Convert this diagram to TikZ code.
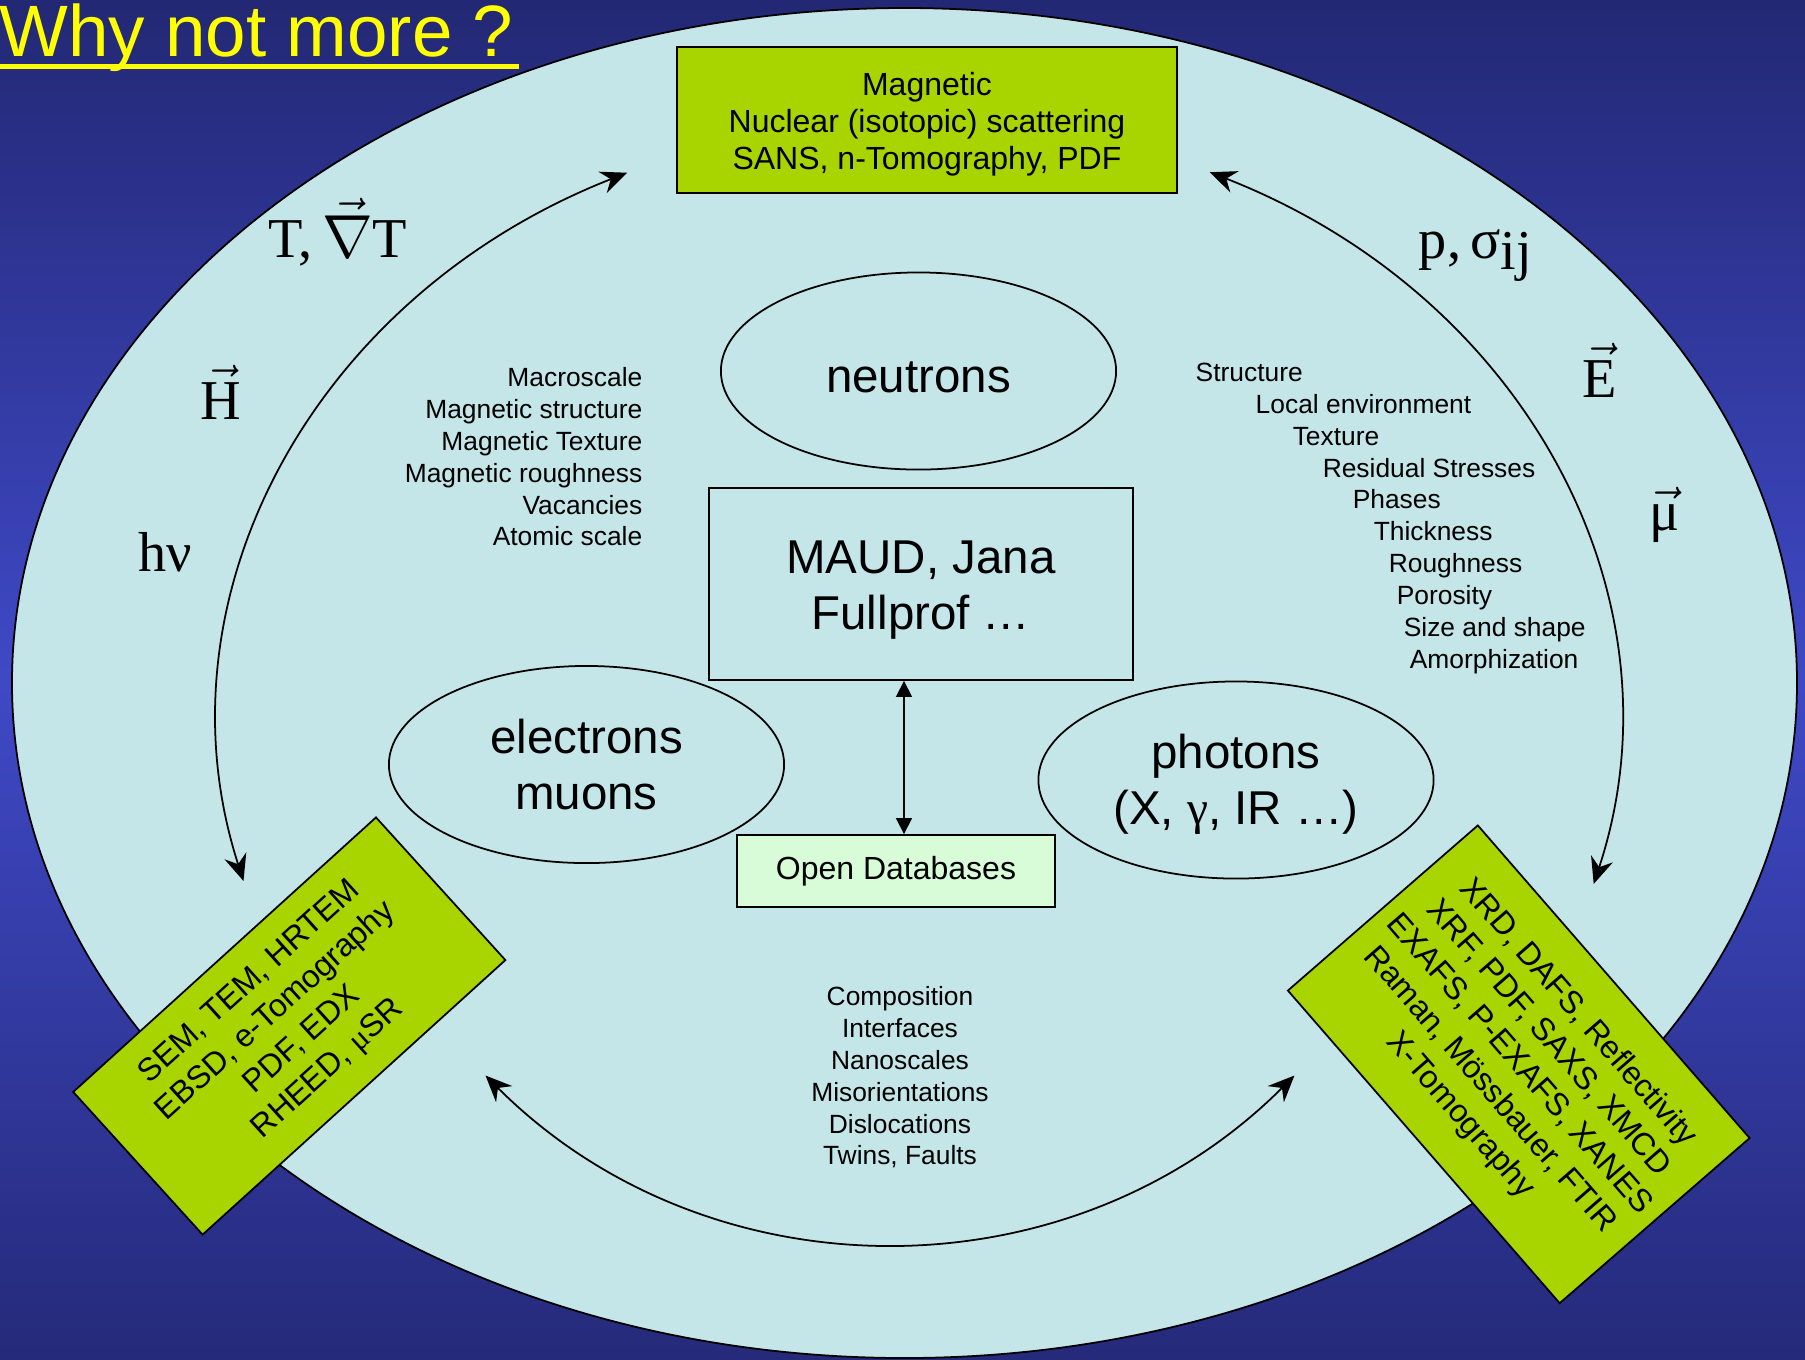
\documentclass[tikz,border=0pt]{standalone}
\usepackage{fontspec}
\setmainfont{Liberation Sans}
\newfontfamily\fieldfont{Liberation Serif}
\usetikzlibrary{shapes.geometric, arrows.meta, positioning}

\definecolor{bgtop}{RGB}{35,40,116}
\definecolor{bgmid}{RGB}{63,73,198}
\definecolor{bgbot}{RGB}{37,42,122}
\definecolor{ovalfill}{RGB}{196,230,232}
\definecolor{techgreen}{RGB}{168,212,0}
\definecolor{dbgreen}{RGB}{216,252,216}
\definecolor{titleyellow}{RGB}{255,255,0}

\tikzstyle{probe} = [ellipse, draw = black, line width=0.5pt, minimum width=3.95cm, minimum height=1.97cm, inner sep=0pt, align=center, font=\fontsize{13.5}{15.9}\selectfont]
\tikzstyle{code} = [rectangle, draw = black, line width=0.5pt, minimum width=4.24cm, minimum height=1.92cm, align=center, font=\fontsize{13.5}{15.9}\selectfont]
\tikzstyle{technique} = [rectangle, draw = black, fill=techgreen, line width=0.5pt, inner sep=0pt, align=center, font=\fontsize{9.1}{11.1}\selectfont]
\tikzstyle{database} = [rectangle, draw = black, fill=dbgreen, line width=0.5pt, minimum width=3.18cm, minimum height=0.72cm, font=\fontsize{9.1}{11}\selectfont]
\tikzstyle{props} = [inner sep=0pt, font=\fontsize{7.5}{9.05}\selectfont]
\tikzstyle{field} = [inner sep=0pt, font=\fieldfont\fontsize{16}{19}\selectfont]
\tikzstyle{heading} = [inner sep=0pt, text=titleyellow, font=\fontsize{20.7}{24}\selectfont]
\tikzstyle{arrow} = [line width=0.5pt, <->, >={Stealth[length=7.5pt, width=6.5pt, inset=2.5pt]}]
\tikzstyle{link} = [line width=0.5pt, <->, >={Triangle[length=4.5pt, width=4.5pt]}]

\begin{document}
\begin{tikzpicture}[x=0.01cm, y=-0.01cm]
	\useasboundingbox (0,0) rectangle (1805,1359);

	% Background - - - - - - - - - - - - - - - - - - - - - - - - - - - - - - -
	\shade[top color=bgtop, bottom color=bgbot, middle color=bgmid] (0,0) rectangle (1805,1359);
	\draw[fill=ovalfill, line width=0.5pt] (904.5,683) ellipse [x radius=892.5, y radius=675];

	%TITLE
	\node(title) [heading, anchor=base west] at (-1,56) {Why not more ?};
	\draw[titleyellow, line width=1.5pt]([yshift=-3pt]title.base west)--([yshift=-3pt,xshift=1.3pt]title.base east);

	% Centre nodes - - - - - - - - - - - - - - - - - - - - - - - - - - - - - -

	%Refinement codes
	\node(maud) [code] at (921,584)
		{\rule{0pt}{12.5pt}MAUD, Jana\\Fullprof …};
	%Databases
	\node(odb) [database, below=1.53cm of maud, xshift=-0.25cm]
		{Open Databases};

	%Probes . . . . . . . . . . . . . . . . . . . . . . . . . . . . . . . . .
	\node(neut) [probe] at (918.5,371) {\rule{0pt}{12.5pt}neutrons};
	\node(elec) [probe] at (586.5,764.5) {electrons\\muons};
	\node(phot) [probe] at (1236,780) {\rule{0pt}{12pt}photons\\(X, {\fieldfont γ}, IR …)};

	% Technique boxes - - - - - - - - - - - - - - - - - - - - - - - - - - - - -
	\node(ntech) [technique, minimum width=5cm, minimum height=1.466cm, font=\fontsize{9.1}{10.4}\selectfont] at (927,120)
		{\rule{0pt}{9pt}Magnetic\\Nuclear (isotopic) scattering\\SANS, n-Tomography, PDF};
	\node(etech) [technique, rotate=42.2, minimum width=4.085cm, minimum height=1.925cm] at (289.3,1026)
		{SEM, TEM, HRTEM\\EBSD, e-Tomography\\PDF, EDX\\RHEED, {\fieldfont μ}SR};
	\node(xtech) [technique, rotate=-49, minimum width=4.14cm, minimum height=2.515cm] at (1518.75,1064.3)
		{XRD, DAFS, Reflectivity\\XRF, PDF, SAXS, XMCD\\EXAFS, P-EXAFS, XANES\\Raman, Mössbauer, FTIR\\X-Tomography};

	% Property lists - - - - - - - - - - - - - - - - - - - - - - - - - - - - - -
	\node(nprops) [props, align=right, anchor=north east] at (643,367)
		{Macroscale\\Magnetic structure\\Magnetic Texture\\Magnetic roughness\\Vacancies\\Atomic scale};
	\node(xprops) [props, align=left, anchor=north west] at (1195,362.5)
		{Structure\\\hspace*{0.6cm}Local environment\\\hspace*{0.97cm}Texture\\\hspace*{1.27cm}Residual Stresses\\\hspace*{1.57cm}Phases\\\hspace*{1.78cm}Thickness\\\hspace*{1.93cm}Roughness\\\hspace*{2.01cm}Porosity\\\hspace*{2.08cm}Size and shape\\\hspace*{2.14cm}Amorphization};
	\node(eprops) [props, align=center, anchor=north] at (900,986)
		{Composition\\Interfaces\\Nanoscales\\Misorientations\\Dislocations\\Twins, Faults};

	% Fields - - - - - - - - - - - - - - - - - - - - - - - - - - - - - - - - - -
	\node(temp) [field, anchor=base] at (338,257) {T,\,$\vec{\nabla}$T};
	\node(hfield) [field, anchor=base] at (221,419) {$\vec{\hbox{H}}$};
	\node(light) [field, anchor=base] at (165,571) {hν};
	\node(press) [field, anchor=base] at (1475.5,258) {p,\,σ\raisebox{-3.4pt}{ij}};
	\node(efield) [field, anchor=base] at (1600,397) {$\vec{\hbox{E}}$};
	\node(mfield) [field, anchor=base] at (1664.5,530) {$\vec{\hbox{μ}}$};

	% Arrows - - - - - - - - - - - - - - - - - - - - - - - - - - - - - - - - - -
	\coordinate(hstart) at (243.5,880.9);
	\coordinate(pstart) at (1209.9,172.2);
	\coordinate(cstart) at (485.5,1075.5);
	\draw[arrow](hstart) arc [start angle=164.5, end angle=245.4, x radius=701, y radius=602];
	\draw[arrow](pstart) arc [start angle=-65.5, end angle=15.8, x radius=701, y radius=602];
	\draw[arrow](cstart) arc [start angle=135, end angle=45, radius=572];
	\draw[link]([xshift=-0.17cm]maud.south)--([xshift=-0.17cm]maud.south |- odb.north);

\end{tikzpicture}
\end{document}
